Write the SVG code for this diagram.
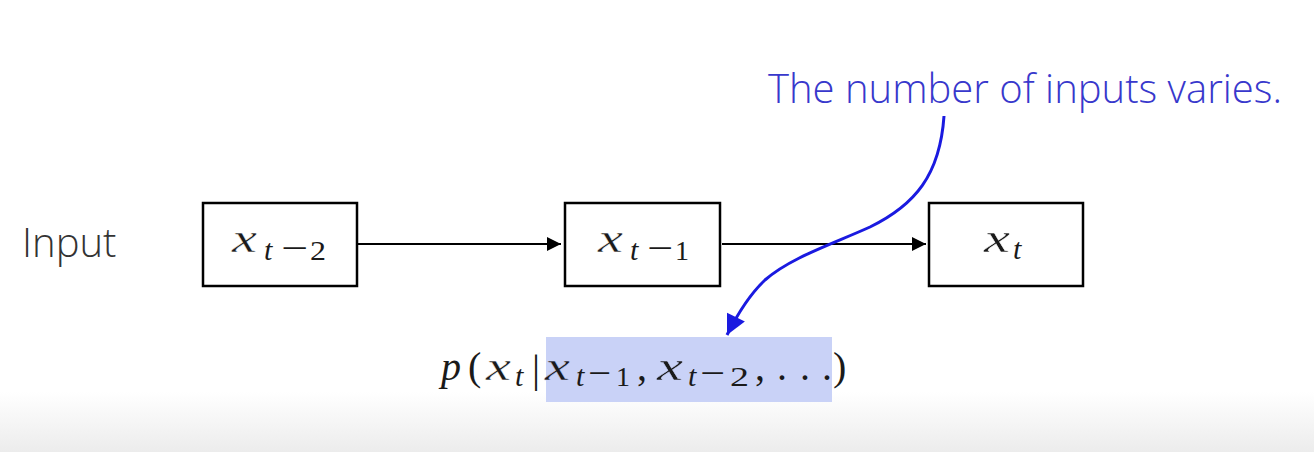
<svg xmlns="http://www.w3.org/2000/svg" width="1314" height="452" viewBox="0 0 1314 452">
<defs>
<linearGradient id="bg" x1="0" y1="0" x2="0" y2="1">
<stop offset="0" stop-color="#ffffff"/>
<stop offset="1" stop-color="#ececec"/>
</linearGradient>
<marker id="ah" viewBox="0 0 10 10" refX="10" refY="5" markerWidth="15" markerHeight="14" markerUnits="userSpaceOnUse" orient="auto">
<path d="M0,0 L10,5 L0,10 z" fill="#000"/>
</marker>
<marker id="bh" viewBox="0 0 10 10" refX="10" refY="5" markerWidth="22" markerHeight="20" markerUnits="userSpaceOnUse" orient="auto">
<path d="M0,0 L10,5 L0,10 z" fill="#1a1ae0"/>
</marker>
</defs>
<style>
.box{fill:#fff;stroke:#000;stroke-width:2.5}
text.m{font-family:"Liberation Serif",serif;font-style:italic;fill:#1a1a1a;font-size:40px}
text.s{font-size:30px}
text.r{font-style:normal}
text.d{font-style:normal;font-size:28px}
text.mi{font-style:normal;font-size:36px}
text.w{stroke:#fff;stroke-width:0.4}
text.b{stroke:#c9d2f7;stroke-width:0.4}
.lbl{font-family:"Open Sans","Noto Sans",sans-serif;font-weight:300}
</style>
<rect width="1314" height="452" fill="#fff"/>
<rect y="392" width="1314" height="60" fill="url(#bg)"/>
<text class="lbl" x="22" y="257" font-size="40" fill="#333">Input</text>
<g id="connectors">
<line x1="358" y1="244" x2="561" y2="244" stroke="#000" stroke-width="2" marker-end="url(#ah)"/>
<line x1="722" y1="244" x2="926" y2="244" stroke="#000" stroke-width="2" marker-end="url(#ah)"/>
</g>
<g id="node-xt2">
<rect class="box" x="203" y="203" width="154" height="83"/>
<text class="m w" x="232" y="252" textLength="25" lengthAdjust="spacingAndGlyphs">x</text>
<text class="m s" x="264" y="260">t</text>
<text class="m mi" x="281" y="260" textLength="27" lengthAdjust="spacingAndGlyphs">−</text>
<text class="m d" x="310" y="260" textLength="16" lengthAdjust="spacingAndGlyphs">2</text>
</g>
<g id="node-xt1">
<rect class="box" x="565" y="203" width="155" height="83"/>
<text class="m w" x="598" y="252" textLength="25" lengthAdjust="spacingAndGlyphs">x</text>
<text class="m s" x="630" y="260">t</text>
<text class="m mi" x="647" y="260" textLength="26" lengthAdjust="spacingAndGlyphs">−</text>
<text class="m d" x="675" y="260">1</text>
</g>
<g id="node-xt">
<rect class="box" x="929" y="203" width="154" height="83"/>
<text class="m w" x="984" y="252" textLength="26" lengthAdjust="spacingAndGlyphs">x</text>
<text class="m s" x="1013" y="259">t</text>
</g>
<rect x="546" y="337" width="286" height="65" fill="#c9d2f7"/>
<g id="formula">
<text class="m" x="441" y="380">p</text>
<text class="m r" x="468" y="380">(</text>
<text class="m w" x="486" y="380" textLength="25" lengthAdjust="spacingAndGlyphs">x</text>
<text class="m s" x="515" y="386">t</text>
<text class="m r" x="532" y="382">|</text>
<text class="m b" x="545" y="380" textLength="25" lengthAdjust="spacingAndGlyphs">x</text>
<text class="m s" x="576" y="386">t</text>
<text class="m mi" x="588" y="385" textLength="23" lengthAdjust="spacingAndGlyphs">−</text>
<text class="m d" x="616" y="386">1</text>
<text class="m r" x="637" y="380">,</text>
<text class="m b" x="657" y="380" textLength="26" lengthAdjust="spacingAndGlyphs">x</text>
<text class="m s" x="688" y="386">t</text>
<text class="m mi" x="700" y="385" textLength="25" lengthAdjust="spacingAndGlyphs">−</text>
<text class="m d" x="730" y="386" textLength="19" lengthAdjust="spacingAndGlyphs">2</text>
<text class="m r" x="755" y="380">,</text>
<text class="m r" x="777" y="380">.</text>
<text class="m r" x="800" y="380">.</text>
<text class="m r" x="822" y="380">.</text>
<text class="m r" x="833" y="380">)</text>
</g>
<g id="annotation">
<path d="M944,116 C940,175 915,205 870,227 C830,245 790,258 765,280 C748,296 737,315 727,335" fill="none" stroke="#1a1ae0" stroke-width="3" marker-end="url(#bh)"/>
<text class="lbl" x="768" y="103" font-size="40" fill="#3838cc">The number of inputs varies.</text>
</g>
</svg>
